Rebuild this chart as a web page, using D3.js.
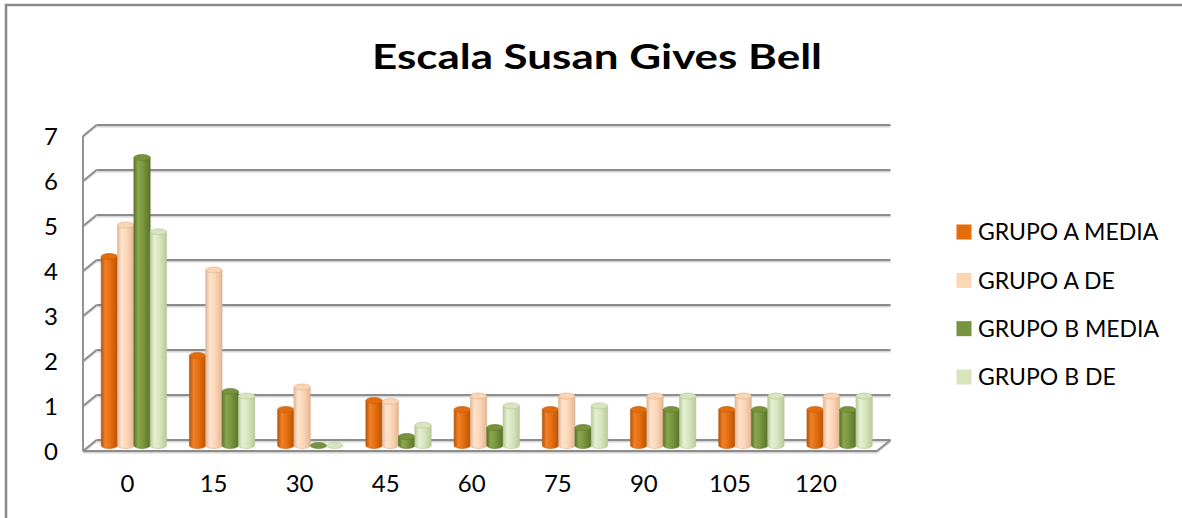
<!DOCTYPE html>
<html>
<head>
<meta charset="utf-8">
<script src="https://cdn.jsdelivr.net/npm/d3@7"></script>
<style>
  html, body { margin: 0; padding: 0; background: #fff; }
  svg { display: block; }
  text { font-family: Lato, "Open Sans", sans-serif; fill: #000; }
</style>
</head>
<body>
<svg id="chart" width="1182" height="518"></svg>
<script>
// ---- data ----
const categories = ["0", "15", "30", "45", "60", "75", "90", "105", "120"];
const seriesNames = ["GRUPO A MEDIA", "GRUPO A DE", "GRUPO B MEDIA", "GRUPO B DE"];
const grupoAMedia = [4.2, 2.0, 0.8, 1.0, 0.8, 0.8, 0.8, 0.8, 0.8];
const grupoADE    = [4.9, 3.9, 1.3, 0.98, 1.1, 1.1, 1.1, 1.1, 1.1];
const grupoBMedia = [6.4, 1.2, 0.0, 0.2, 0.4, 0.4, 0.8, 0.8, 0.8];
const grupoBDE    = [4.75, 1.1, 0.0, 0.45, 0.88, 0.88, 1.1, 1.1, 1.1];
const yTicks = [0, 1, 2, 3, 4, 5, 6, 7];
const titleText = "Escala Susan Gives Bell";

const seriesValues = [grupoAMedia, grupoADE, grupoBMedia, grupoBDE];
const colors = [
  { base: "#E46C0A", dark: "#B4540A", light: "#F0802A", edge: "#C05A08" },
  { base: "#FCD5B5", dark: "#E2B896", light: "#FFE3CC", edge: "#D9AE8C" },
  { base: "#77933C", dark: "#5A7329", light: "#8AA64E", edge: "#5F7A2C" },
  { base: "#D7E4BD", dark: "#B9CA98", light: "#E6EFD3", edge: "#B4C595" }
];

const svg = d3.select("#chart");

// outer border
svg.append("rect")
  .attr("x", 6).attr("y", 5).attr("width", 1200).attr("height", 600)
  .attr("fill", "none").attr("stroke", "#8a8a8a").attr("stroke-width", 2.5);

// title
svg.append("text")
  .attr("x", 597).attr("y", 69)
  .attr("text-anchor", "middle")
  .style("font-size", "35px").style("font-weight", "bold")
  .attr("textLength", 450).attr("lengthAdjust", "spacingAndGlyphs")
  .text(titleText);

// ---- 3D-ish projection ----
const DX = 13.5, DY = -11;               // depth offset front -> back
const yBack = d3.scaleLinear().domain([0, 7]).range([440, 125]);
const xBack = d3.scaleBand().domain(categories).range([96.5, 890.5]).paddingInner(0).paddingOuter(0);
const xInner = d3.scaleBand().domain(d3.range(4)).range([0, xBack.bandwidth()]).paddingInner(0).paddingOuter(0.7);
const xLabel = d3.scalePoint().domain(categories).range([127.5, 816]);

const gridColor = "#8c8c8c";
const shadowColor = "#d6d6d6";

function line(g, x1, y1, x2, y2) {
  g.append("line").attr("x1", x1).attr("y1", y1 + 1.6).attr("x2", x2).attr("y2", y2 + 1.6)
    .attr("stroke", shadowColor).attr("stroke-width", 1.6);
  g.append("line").attr("x1", x1).attr("y1", y1).attr("x2", x2).attr("y2", y2)
    .attr("stroke", gridColor).attr("stroke-width", 1.8);
}

const grid = svg.append("g");
const x0b = xBack.range()[0], x1b = xBack.range()[1];
// back wall gridlines
yTicks.forEach(t => line(grid, x0b, yBack(t), x1b, yBack(t)));
// left wall diagonals
yTicks.forEach(t => line(grid, x0b - DX, yBack(t) - DY, x0b, yBack(t)));
// left front vertical axis
line(grid, x0b - DX, yBack(0) - DY, x0b - DX, yBack(7) - DY);
// floor front edge and right diagonal
line(grid, x0b - DX, yBack(0) - DY, x1b - DX, yBack(0) - DY);
line(grid, x1b - DX, yBack(0) - DY, x1b, yBack(0));

// y tick labels
svg.append("g").selectAll("text").data(yTicks).join("text")
  .attr("x", 58).attr("y", d => yBack(d) - DY)
  .attr("dy", "0.36em")
  .attr("text-anchor", "end")
  .style("font-size", "24px")
  .text(d => d);

// x labels
svg.append("g").selectAll("text").data(categories).join("text")
  .attr("x", d => xLabel(d)).attr("y", 492)
  .attr("text-anchor", "middle")
  .style("font-size", "24px")
  .text(d => d);

// gradients
const defs = svg.append("defs");
colors.forEach((c, i) => {
  const g = defs.append("linearGradient").attr("id", "cyl" + i)
    .attr("x1", "0").attr("x2", "1").attr("y1", "0").attr("y2", "0");
  g.append("stop").attr("offset", "0%").attr("stop-color", c.dark);
  g.append("stop").attr("offset", "25%").attr("stop-color", c.light);
  g.append("stop").attr("offset", "60%").attr("stop-color", c.base);
  g.append("stop").attr("offset", "100%").attr("stop-color", c.dark);
});

// bars (cylinders) at mid-depth
const yMid = v => yBack(v) - DY / 2;
const bars = [];
categories.forEach((cat, ci) => {
  seriesValues.forEach((vals, si) => {
    bars.push({ cat, si, v: vals[ci] });
  });
});
const ry = 3;
const barG = svg.append("g");
bars.forEach(b => {
  const w = xInner.bandwidth();
  const x = xBack(b.cat) - DX / 2 + xInner(b.si);
  const yT = yMid(b.v), yB = yMid(0);
  const c = colors[b.si];
  const g = barG.append("g");
  if (b.v > 0) {
    g.append("path")
      .attr("d", `M${x},${yT} L${x},${yB} A${w / 2},${ry} 0 0 0 ${x + w},${yB} L${x + w},${yT} Z`)
      .attr("fill", `url(#cyl${b.si})`)
      .attr("stroke", c.edge).attr("stroke-width", 0.6);
  }
  g.append("ellipse")
    .attr("cx", x + w / 2).attr("cy", yT)
    .attr("rx", w / 2).attr("ry", ry)
    .attr("fill", c.base)
    .attr("stroke", c.edge).attr("stroke-width", 0.6);
});

// legend
const legendY = d3.scalePoint().domain(seriesNames).range([232, 377]);
const leg = svg.append("g");
seriesNames.forEach((name, i) => {
  leg.append("rect")
    .attr("x", 956.5).attr("y", legendY(name) - 7.5)
    .attr("width", 15).attr("height", 15)
    .attr("fill", colors[i].base);
  leg.append("text")
    .attr("x", 978).attr("y", legendY(name))
    .attr("dy", "0.36em")
    .style("font-size", "23px")
    .text(name);
});
</script>
</body>
</html>
